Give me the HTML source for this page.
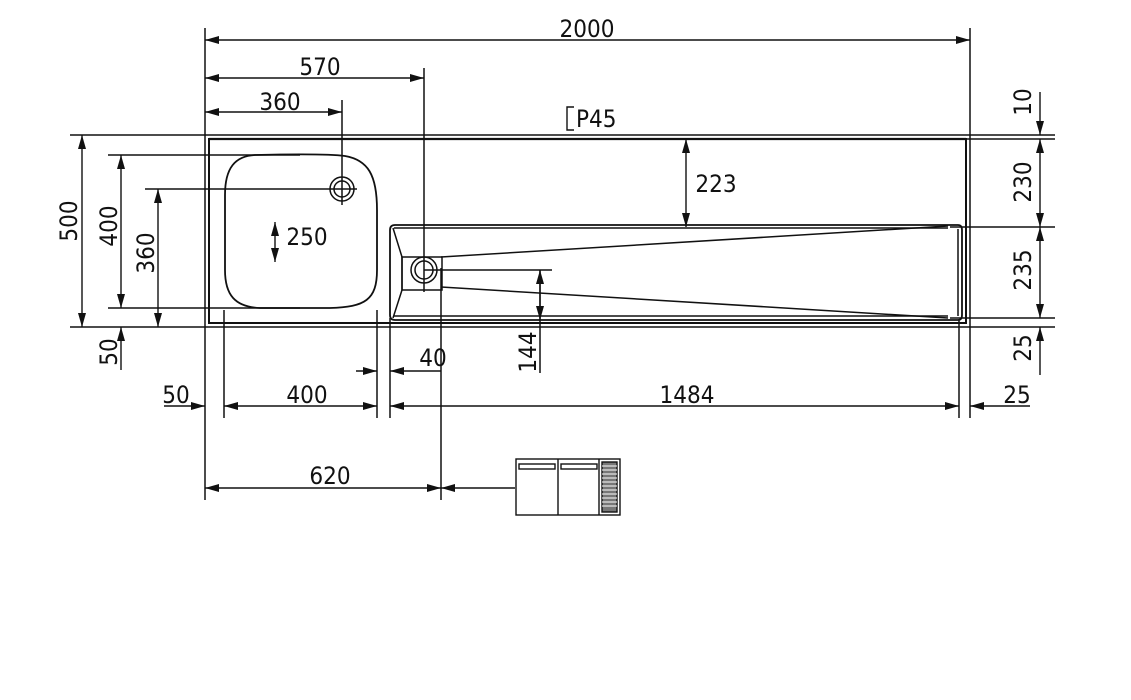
<!DOCTYPE html>
<html><head><meta charset="utf-8"><style>
html,body{margin:0;padding:0;background:#fff;}
svg{display:block;}
text{font-family:"DejaVu Sans Condensed","Liberation Sans",sans-serif;font-size:24px;fill:#111;}
</style></head><body>
<svg width="1131" height="700" viewBox="0 0 1131 700" xmlns="http://www.w3.org/2000/svg">
<defs>
<marker id="a" viewBox="0 0 14 8" refX="14" refY="4" markerWidth="14" markerHeight="8" orient="auto-start-reverse" markerUnits="userSpaceOnUse"><path d="M0,0 L14,4 L0,8 Z" fill="#111"/></marker>
</defs>
<g stroke="#111" stroke-width="1.5" fill="none">
<line x1="205" y1="28" x2="205" y2="500"/>
<line x1="970" y1="28" x2="970" y2="418"/>
<line x1="424" y1="68" x2="424" y2="292"/>
<line x1="342" y1="100" x2="342" y2="205"/>
<line x1="224" y1="310" x2="224" y2="418"/>
<line x1="377" y1="310" x2="377" y2="418"/>
<line x1="390" y1="318" x2="390" y2="418"/>
<line x1="441" y1="268" x2="441" y2="500"/>
<line x1="540" y1="270" x2="540" y2="373"/>
<line x1="959" y1="320" x2="959" y2="418"/>
<line x1="70" y1="135" x2="1055" y2="135"/>
<line x1="108" y1="155" x2="300" y2="155"/>
<line x1="145" y1="189" x2="357" y2="189"/>
<line x1="108" y1="308" x2="300" y2="308"/>
<line x1="70" y1="327" x2="1055" y2="327"/>
<line x1="966" y1="139" x2="1055" y2="139"/>
<line x1="950" y1="227" x2="1055" y2="227"/>
<line x1="950" y1="318" x2="1055" y2="318"/>
<line x1="424" y1="270" x2="552" y2="270"/>
<rect x="209" y="139" width="757" height="184" stroke-width="2"/>
<line x1="209" y1="139" x2="966" y2="139" stroke-width="2.2"/>
<path d="M255,155 C300,154 330,154 345,156 C368,160 377,175 377,210 L377,270 C377,300 365,307 330,308 L260,308 C235,307 225,295 225,270 L225,195 C225,168 235,156 255,155 Z" stroke-width="1.8"/>
<circle cx="342" cy="189" r="12"/>
<circle cx="342" cy="189" r="8"/>
<path d="M395,225 L958,225 Q962,225 962,230 L962,315 Q962,320 958,320 L395,320 Q390,320 390,315 L390,230 Q390,225 395,225 Z" stroke-width="1.8"/>
<line x1="394" y1="228" x2="948" y2="228"/>
<line x1="394" y1="316" x2="948" y2="316"/>
<path d="M958,229 L958,316"/>
<path d="M393,228 L402,257 L402,290 L393,318"/>
<rect x="402" y="257" width="40" height="33"/>
<line x1="441" y1="257" x2="948" y2="226"/>
<line x1="441" y1="287" x2="948" y2="318"/>
<circle cx="424" cy="270" r="13"/>
<circle cx="424" cy="270" r="9"/>
</g>
<g stroke="#111" stroke-width="1.4" fill="none">
<line x1="205" y1="40" x2="970" y2="40" marker-start="url(#a)" marker-end="url(#a)"/>
<line x1="205" y1="78" x2="424" y2="78" marker-start="url(#a)" marker-end="url(#a)"/>
<line x1="205" y1="112" x2="342" y2="112" marker-start="url(#a)" marker-end="url(#a)"/>
<line x1="205" y1="488" x2="441" y2="488" marker-start="url(#a)" marker-end="url(#a)"/>
<line x1="441" y1="488" x2="515" y2="488" marker-start="url(#a)"/>
<line x1="164" y1="406" x2="205" y2="406" marker-end="url(#a)"/>
<line x1="224" y1="406" x2="377" y2="406" marker-start="url(#a)" marker-end="url(#a)"/>
<line x1="390" y1="406" x2="959" y2="406" marker-start="url(#a)" marker-end="url(#a)"/>
<line x1="1030" y1="406" x2="970" y2="406" marker-end="url(#a)"/>
<line x1="356" y1="371" x2="377" y2="371" marker-end="url(#a)"/>
<line x1="441" y1="371" x2="390" y2="371" marker-end="url(#a)"/>
<line x1="82" y1="135" x2="82" y2="327" marker-start="url(#a)" marker-end="url(#a)"/>
<line x1="121" y1="155" x2="121" y2="308" marker-start="url(#a)" marker-end="url(#a)"/>
<line x1="158" y1="189" x2="158" y2="327" marker-start="url(#a)" marker-end="url(#a)"/>
<line x1="121" y1="370" x2="121" y2="327" marker-end="url(#a)"/>
<line x1="686" y1="139" x2="686" y2="227" marker-start="url(#a)" marker-end="url(#a)"/>
<line x1="540" y1="270" x2="540" y2="320" marker-start="url(#a)" marker-end="url(#a)"/>
<line x1="275" y1="222" x2="275" y2="262" marker-start="url(#a)" marker-end="url(#a)"/>
<line x1="1040" y1="92" x2="1040" y2="135" marker-end="url(#a)"/>
<line x1="1040" y1="139" x2="1040" y2="227" marker-start="url(#a)" marker-end="url(#a)"/>
<line x1="1040" y1="227" x2="1040" y2="318" marker-start="url(#a)" marker-end="url(#a)"/>
<line x1="1040" y1="375" x2="1040" y2="327" marker-end="url(#a)"/>
<path d="M574,107 L567,107 L567,130 L574,130"/>
</g>
<g stroke="#111" stroke-width="1.4" fill="none">
<rect x="516" y="459" width="104" height="56"/>
<line x1="558" y1="459" x2="558" y2="515"/>
<line x1="599" y1="459" x2="599" y2="515"/>
<rect x="519" y="464" width="36" height="5"/>
<rect x="561" y="464" width="36" height="5"/>
<rect x="602" y="462" width="15" height="50" fill="#777"/>
<path d="M602,466H617M602,470H617M602,474H617M602,478H617M602,482H617M602,486H617M602,490H617M602,494H617M602,498H617M602,502H617M602,506H617" stroke="#fff" stroke-width="1"/>
</g>
<text x="587" y="37" text-anchor="middle">2000</text>
<text x="320" y="75" text-anchor="middle">570</text>
<text x="280" y="110" text-anchor="middle">360</text>
<text x="576" y="127">P45</text>
<text x="716" y="192" text-anchor="middle">223</text>
<text x="307" y="245" text-anchor="middle">250</text>
<text x="176" y="403" text-anchor="middle">50</text>
<text x="307" y="403" text-anchor="middle">400</text>
<text x="687" y="403" text-anchor="middle">1484</text>
<text x="1017" y="403" text-anchor="middle">25</text>
<text x="433" y="366" text-anchor="middle">40</text>
<text x="330" y="484" text-anchor="middle">620</text>
<text transform="translate(77,221) rotate(-90)" text-anchor="middle">500</text>
<text transform="translate(117,226) rotate(-90)" text-anchor="middle">400</text>
<text transform="translate(154,253) rotate(-90)" text-anchor="middle">360</text>
<text transform="translate(117,352) rotate(-90)" text-anchor="middle">50</text>
<text transform="translate(536,352) rotate(-90)" text-anchor="middle">144</text>
<text transform="translate(1031,102) rotate(-90)" text-anchor="middle">10</text>
<text transform="translate(1031,182) rotate(-90)" text-anchor="middle">230</text>
<text transform="translate(1031,270) rotate(-90)" text-anchor="middle">235</text>
<text transform="translate(1031,348) rotate(-90)" text-anchor="middle">25</text>
</svg>
</body></html>
